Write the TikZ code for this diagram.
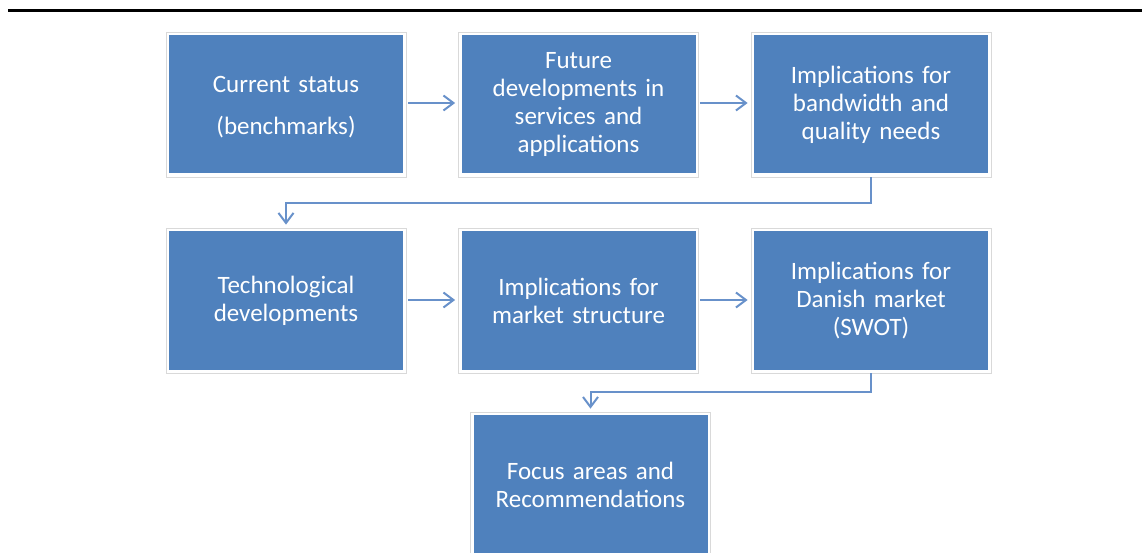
\documentclass[tikz,border=0pt]{standalone}
\usepackage{fontspec}
\setmainfont{Carlito}
\usetikzlibrary{arrows.meta,calc}
\definecolor{boxblue}{HTML}{4F81BD}
\definecolor{linkblue}{HTML}{6891CA}
\definecolor{framegray}{HTML}{D9D9D9}
\tikzset{
  stepbox/.style={draw=framegray, line width=0.8pt, fill=white,
    minimum width=240pt, minimum height=145pt, inner sep=0pt,
    text width=220pt, align=center, text=white,
    font=\fontsize{25}{28}\selectfont,
    path picture={\fill[boxblue]
      ($(path picture bounding box.south west)+(3pt,3.5pt)$) rectangle
      ($(path picture bounding box.north east)+(-3pt,-3pt)$);}},
  link/.style={draw=linkblue, line width=2pt,
    -{Straight Barb[length=10pt,width=15pt,line width=2pt]}},
}
\begin{document}
\begin{tikzpicture}[x=1pt,y=-1pt]
\useasboundingbox (0,0) rectangle (1142,553);
\coordinate (tl) at (8,11);
\coordinate (tr) at (1142,11);
\draw[line width=3pt] (tl) -- (tr);

\node[stepbox] (b1) at (286,104.5) {\rule{0pt}{22pt}Current status\\[14pt](benchmarks)};
\node[stepbox] (b2) at (578.5,104.5) {Future\\developments in\\services and\\applications};
\node[stepbox] (b3) at (871,104.5) {Implications for\\bandwidth and\\quality needs};
\node[stepbox] (b4) at (286,300.5) {Technological\\developments};
\node[stepbox] (b5) at (578.5,300.5) {Implications for\\market structure};
\node[stepbox] (b6) at (871,300.5) {Implications for\\Danish market\\(SWOT)};
\node[stepbox] (b7) at (590.5,484.5) {Focus areas and\\Recommendations};

\draw[link, shorten <=2pt, shorten >=3pt] (b1.east |- 0,103) -- (b2.west |- 0,103);
\draw[link, shorten <=1pt, shorten >=3pt] (b2.east |- 0,103) -- (b3.west |- 0,103);
\draw[link, shorten <=2pt, shorten >=3pt] (b4.east |- 0,300) -- (b5.west |- 0,300);
\draw[link, shorten <=1pt, shorten >=3pt] (b5.east |- 0,300) -- (b6.west |- 0,300);

\coordinate (m1) at (871,203);
\coordinate (m2) at (871,392);
\draw[link, shorten >=3pt] (b3.south) -- (m1) -| (b4.north);
\draw[link, shorten >=3pt] (b6.south) -- (m2) -| (b7.north);
\end{tikzpicture}
\end{document}
